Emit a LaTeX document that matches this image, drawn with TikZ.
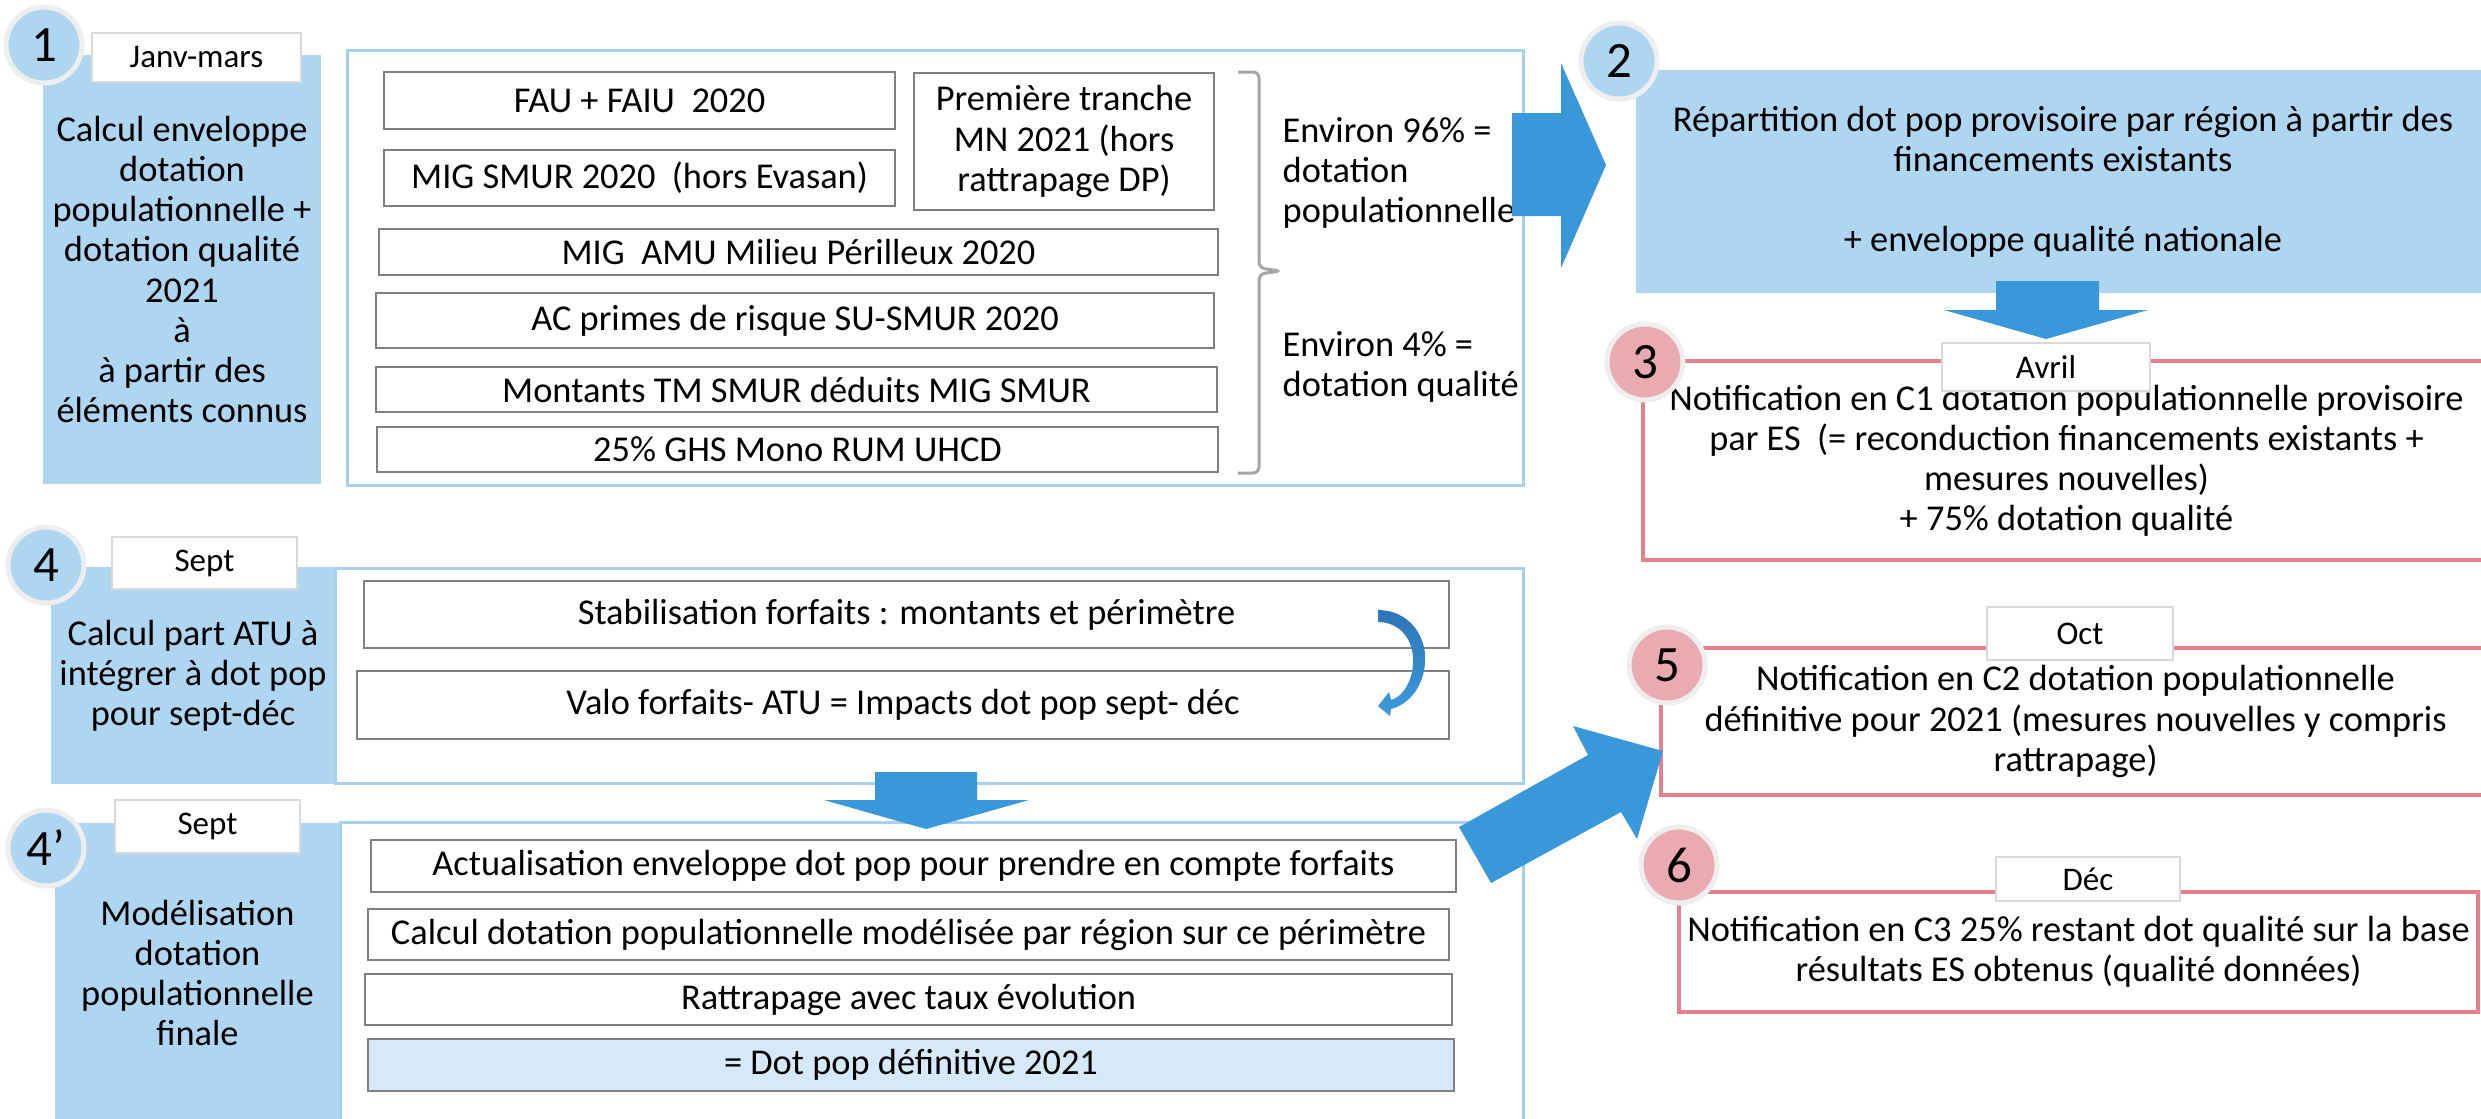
\documentclass[tikz,border=0pt]{standalone}
\usepackage{fontspec}
\setmainfont{Carlito}
\usetikzlibrary{calc}

\definecolor{blueFill}{RGB}{175,214,240}
\definecolor{outerBlue}{RGB}{167,207,238}
\definecolor{arrowBlue}{RGB}{56,152,217}
\definecolor{redLine}{RGB}{227,128,139}
\definecolor{pinkFill}{RGB}{234,170,177}
\definecolor{ringGrey}{RGB}{238,238,238}
\definecolor{greyLine}{RGB}{128,128,128}
\definecolor{labelLine}{RGB}{217,217,217}
\definecolor{dotdefFill}{RGB}{214,233,248}
\definecolor{bracketGrey}{RGB}{166,166,166}
\definecolor{curveDark}{RGB}{46,117,182}
\definecolor{curveLight}{RGB}{58,155,220}

\begin{document}
\begin{tikzpicture}[x=0.1mm, y=-0.1mm,
  boxsize/.style 2 args={minimum width=#1*0.1mm, minimum height=#2*0.1mm},
  base/.style={rectangle, inner sep=0pt, align=center, font=\fontsize{10.35}{11.4}\selectfont},
  outerbox/.style={base, draw=outerBlue, line width=0.3mm, fill=white},
  bluebox/.style={base, fill=blueFill},
  greybox/.style={base, draw=greyLine, line width=0.25mm, fill=white},
  notifbox/.style={base, draw=redLine, line width=0.4mm, fill=white},
  datebox/.style={base, draw=labelLine, line width=0.2mm, fill=white, font=\fontsize{9.4}{10}\selectfont},
  numblue/.style={circle, inner sep=0pt, minimum size=7.6mm, fill=blueFill, draw=ringGrey, line width=0.5mm, font=\fontsize{14.5}{15}\selectfont},
  numpink/.style={numblue, fill=pinkFill},
  blockarrow/.style={fill=arrowBlue},
  bracket/.style={draw=bracketGrey, line width=0.3mm, rounded corners=0.6mm}]

\useasboundingbox (0,0) rectangle (2481,1118);
\clip (0,0) rectangle (2481,1118);

% cadres
\node[outerbox, boxsize={1176}{435}] (cadre1) at (935,267.5) {};
\node[outerbox, boxsize={1188}{215}] (cadre4) at (929,675.5) {};
\node[outerbox, boxsize={1183}{318}] (cadre4p) at (931.5,981) {};

% etapes a gauche
\node[bluebox, boxsize={278}{429}] (etape1) at (182,269.5)
  {Calcul enveloppe\\dotation\\populationnelle +\\dotation qualité\\2021\\à\\à partir des\\éléments connus};
\node[bluebox, boxsize={284}{217}] (etape4) at (193,675.5)
  {Calcul part ATU à\\intégrer à dot pop\\pour sept-déc};
\node[bluebox, boxsize={285}{300}] (etape4p) at (197.5,973)
  {Modélisation\\dotation\\populationnelle\\finale};

% elements connus
\node[greybox, boxsize={511}{57}] (fau) at (639.5,100.5) {FAU + FAIU\ \ 2020};
\node[greybox, boxsize={511}{56}] (migsmur) at (639.5,178) {MIG SMUR 2020\ \ (hors Evasan)};
\node[greybox, boxsize={300}{137}] (tranche) at (1064,141.5) {Première tranche\\MN 2021 (hors\\rattrapage DP)};
\node[greybox, boxsize={839}{46}] (migamu) at (798.5,252) {MIG\ \ AMU Milieu Périlleux 2020};
\node[greybox, boxsize={838}{55}] (primes) at (795,320.5) {AC primes de risque SU-SMUR 2020};
\node[greybox, boxsize={841}{45}] (montants) at (796.5,389.5) {Montants TM SMUR déduits MIG SMUR};
\node[greybox, boxsize={841}{45}] (ghs) at (797.5,449.5) {25\% GHS Mono RUM UHCD};

\draw[bracket] (1238,72) -- (1259,72) -- (1259,268) -- (1281,271) -- (1259,274) -- (1259,473) -- (1238,473);
\node[base, anchor=west, align=left] (part96) at (1282,173) {Environ 96\% =\\dotation\\populationnelle};
\node[base, anchor=west, align=left] (part4) at (1282,367) {Environ 4\% =\\dotation qualité};

% forfaits
\node[greybox, boxsize={1085}{67}] (stabil) at (906.5,614.5) {Stabilisation forfaits : montants et périmètre};
\node[greybox, boxsize={1092}{68}] (valo) at (903,705) {Valo forfaits- ATU = Impacts dot pop sept- déc};
\shade[top color=curveDark, bottom color=curveLight]
  (1378,610) .. controls (1408,610) and (1427,635) .. (1425,662)
  .. controls (1424,685) and (1410,704) .. (1391,709)
  -- (1390,716) -- (1378,706) -- (1389,692) -- (1391,700)
  .. controls (1403,697) and (1413,680) .. (1413,662)
  .. controls (1414,640) and (1400,622) .. (1378,622) -- cycle;

\node[greybox, boxsize={1085}{52}] (actual) at (913.5,866) {Actualisation enveloppe dot pop pour prendre en compte forfaits};
\node[greybox, boxsize={1081}{51}] (calcdot) at (908.5,934.5) {Calcul dotation populationnelle modélisée par région sur ce périmètre};
\node[greybox, boxsize={1087}{51}] (rattrap) at (908.5,999.5) {Rattrapage avec taux évolution};
\node[greybox, fill=dotdefFill, boxsize={1086}{52}] (dotdef) at (911,1065) {= Dot pop définitive 2021};

% notifications
\node[notifbox, boxsize={847}{199}] (notif1) at (2066.5,460.5)
  {Notification en C1 dotation populationnelle provisoire\\par ES\ \ (= reconduction financements existants +\\mesures nouvelles)\\+ 75\% dotation qualité};
\node[notifbox, boxsize={829}{147}] (notif2) at (2075.5,721.5)
  {Notification en C2 dotation populationnelle\\définitive pour 2021 (mesures nouvelles y compris\\rattrapage)};
\node[notifbox, boxsize={799}{120}] (notif3) at (2078.5,952)
  {Notification en C3 25\% restant dot qualité sur la base\\résultats ES obtenus (qualité données)};
\node[bluebox, boxsize={854}{223}] (repart) at (2063,181.5)
  {Répartition dot pop provisoire par région à partir des\\financements existants\\[11.4pt]+ enveloppe qualité nationale};

% fleches
\fill[blockarrow] (1512,113) -- (1561,113) -- (1561,63) -- (1606,165) -- (1561,268) -- (1561,216) -- (1512,216) -- cycle;
\fill[blockarrow] (1996,281) -- (2099,281) -- (2099,310) -- (2148,310) -- (2046,339) -- (1944,310) -- (1996,310) -- cycle;
\fill[blockarrow] (875,772) -- (977,772) -- (977,800) -- (1029,800) -- (926,829) -- (824,800) -- (875,800) -- cycle;
\fill[blockarrow] (1459,827) -- (1588,755) -- (1573,726) -- (1663,751) -- (1637,839) -- (1621,812) -- (1491,883) -- cycle;

% dates
\node[datebox, boxsize={209}{49}] (janv) at (196.5,57.5) {Janv-mars};
\node[datebox, boxsize={185}{52}] (sept) at (204.5,563) {Sept};
\node[datebox, boxsize={185}{53}] (septb) at (207.5,826.5) {Sept};
\node[datebox, boxsize={208}{48}] (avril) at (2046,367) {Avril};
\node[datebox, boxsize={186}{53}] (oct) at (2080,633.5) {Oct};
\node[datebox, boxsize={184}{44}] (dec) at (2088,879) {Déc};

% numeros
\node[numblue] (num1) at (44,45) {1};
\node[numblue] (num2) at (1619,61) {2};
\node[numpink] (num3) at (1645,362) {3};
\node[numblue] (num4) at (46,565) {4};
\node[numblue] (num4p) at (46,848) {4’};
\node[numpink] (num5) at (1667,665) {5};
\node[numpink] (num6) at (1679,865) {6};
\end{tikzpicture}
\end{document}
